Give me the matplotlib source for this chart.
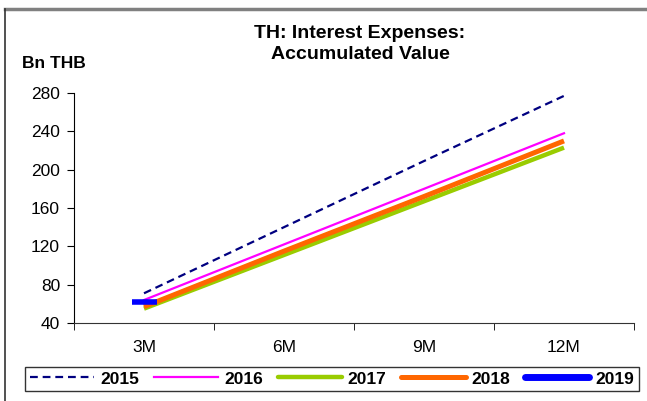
import matplotlib
matplotlib.use("Agg")
import matplotlib.pyplot as plt
from matplotlib.lines import Line2D
import numpy as np

plt.rcParams['font.family'] = ['Liberation Sans', 'DejaVu Sans']

categories = ["3M", "6M", "9M", "12M"]
s2015 = [71, 140, 209, 277]
s2016 = [64, 122, 180, 238]
s2017 = [55, 111, 167, 223]
s2018 = [57, 115, 172, 230]
s2019 = [62]
yticks = [40, 80, 120, 160, 200, 240, 280]

W, H = 647, 401
fig = plt.figure(figsize=(W / 100, H / 100), dpi=100)
ax = fig.add_axes([74 / W, 1 - 323 / H, (634 - 74) / W, (323 - 93) / H])

x = np.arange(len(categories))
ax.plot(x, s2015, color='#000080', lw=1.6, ls=(0, (3.5, 2.2)), label='2015')
ax.plot(x, s2016, color='#FF00FF', lw=1.6, label='2016')
ax.plot(x, s2017, color='#99CC00', lw=3.2, label='2017', solid_capstyle='butt')
ax.plot(x, s2018, color='#FF6600', lw=3.6, label='2018', solid_capstyle='butt')
ax.plot(x[:len(s2019)], s2019, color='#0000FF', lw=0, marker='_', ms=18, mew=4, label='2019')

ax.set_xlim(-0.5, len(categories) - 0.5)
ax.set_ylim(40, 280)
ax.set_yticks(yticks)
ax.set_yticklabels([str(v) for v in yticks], fontsize=12.5)
ax.set_xticks(x)
ax.set_xticklabels(categories, fontsize=12.5)
ax.tick_params(axis='x', which='major', length=0, pad=12)
ax.set_xticks(np.arange(-0.5, len(categories)), minor=True)
ax.tick_params(axis='x', which='minor', length=5, direction='out')
ax.tick_params(axis='y', length=5, direction='out', pad=5)
for s in ['top', 'right']:
    ax.spines[s].set_visible(False)
ax.spines['left'].set_color('black')
ax.spines['bottom'].set_color('#333333')

fig.text(360 / W, 1 - 44 / H, "TH: Interest Expenses:\nAccumulated Value", ha='center', va='center',
         fontsize=14, fontweight='bold', linespacing=1.3)
fig.text(22 / W, 1 - 64 / H, "Bn THB", ha='left', va='center', fontsize=12.5, fontweight='bold')

handles = [
    Line2D([], [], color='#000080', lw=1.6, ls=(0, (3.5, 2.2))),
    Line2D([], [], color='#FF00FF', lw=1.6),
    Line2D([], [], color='#99CC00', lw=3.2, solid_capstyle='round'),
    Line2D([], [], color='#FF6600', lw=3.6, solid_capstyle='round'),
    Line2D([], [], color='#0000FF', lw=5, solid_capstyle='round'),
]
leg = fig.legend(handles, ['2015', '2016', '2017', '2018', '2019'], loc='center',
                 bbox_to_anchor=(332 / W, 1 - 379 / H), ncol=5, frameon=True, fancybox=False,
                 prop={'weight': 'bold', 'size': 12.5}, handlelength=3.7, handletextpad=0.35,
                 columnspacing=0.85, borderpad=0.25, borderaxespad=0.0, edgecolor='black')
leg.get_frame().set_linewidth(1.0)

# outer frame lines
fig.add_artist(Line2D([5 / W, 1], [1 - 8.5 / H, 1 - 8.5 / H], color='#808080', lw=2.5))
fig.add_artist(Line2D([5 / W, 5 / W], [0, 1 - 8.5 / H], color='#333333', lw=1.2))

fig.savefig("out.png", dpi=100)
